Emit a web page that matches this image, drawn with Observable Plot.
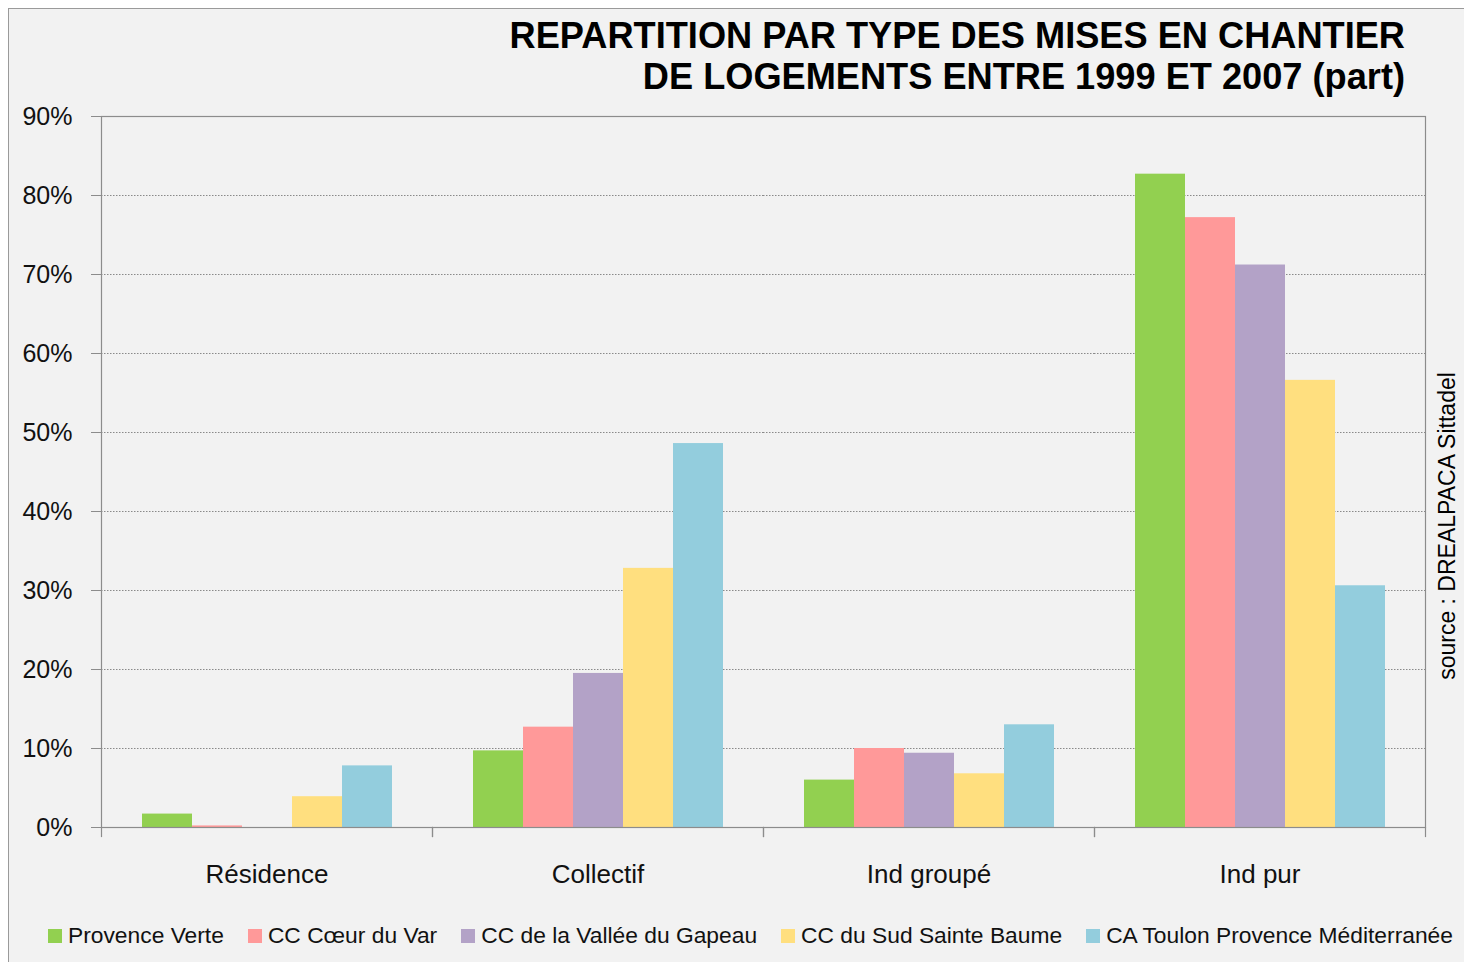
<!DOCTYPE html>
<html>
<head>
<meta charset="utf-8">
<script src="https://cdn.jsdelivr.net/npm/d3@7"></script>
<script src="https://cdn.jsdelivr.net/npm/@observablehq/plot@0.6"></script>
<style>
  html, body { margin: 0; padding: 0; background: #ffffff; }
  #wrap { position: relative; width: 1464px; height: 962px; overflow: hidden; font-family: "Liberation Sans", Arial, sans-serif; }
  #bg { position: absolute; left: 8px; top: 8px; width: 1470px; height: 970px; background: #f2f2f2; border-left: 1.5px solid #9a9a9a; border-top: 1.5px solid #9a9a9a; }
  #chart { position: absolute; left: 0; top: 0; }
  #title { position: absolute; right: 59px; top: 15px; text-align: right; font-weight: bold; font-size: 36.2px; line-height: 41px; color: #000; }
  #source { position: absolute; left: 1447px; top: 526px; transform: translate(-50%, -50%) rotate(-90deg); white-space: nowrap; font-size: 23px; color: #000; }
  #legend { position: absolute; left: 48px; top: 922px; display: flex; align-items: center; font-size: 22.8px; color: #111; white-space: nowrap; }
  .item { display: flex; align-items: center; margin-right: 24px; }
  .sw { width: 14px; height: 14px; margin-right: 6px; }
</style>
</head>
<body>
<div id="wrap">
  <div id="bg"></div>
  <div id="chart"></div>
  <div id="title">REPARTITION PAR TYPE DES MISES EN CHANTIER<br>DE LOGEMENTS ENTRE 1999 ET 2007 (part)</div>
  <div id="source">source : DREALPACA Sittadel</div>
  <div id="legend"></div>
</div>
<script>
const categories = ["Résidence", "Collectif", "Ind groupé", "Ind pur"];
const series = ["Provence Verte", "CC Cœur du Var", "CC de la Vallée du Gapeau", "CC du Sud Sainte Baume", "CA Toulon Provence Méditerranée"];
const colors = ["#92d050", "#ff9999", "#b3a2c7", "#ffdf7f", "#93cddd"];
const provenceVerte = [1.7, 9.7, 6.0, 82.7];
const coeurDuVar = [0.2, 12.7, 10.0, 77.2];
const valleeGapeau = [0, 19.5, 9.4, 71.2];
const sudSainteBaume = [3.9, 32.8, 6.8, 56.6];
const toulonTPM = [7.8, 48.6, 13.0, 30.6];
const yTicks = [0, 10, 20, 30, 40, 50, 60, 70, 80, 90];
const gridTicks = [10, 20, 30, 40, 50, 60, 70, 80];

const seriesValues = [provenceVerte, coeurDuVar, valleeGapeau, sudSainteBaume, toulonTPM];
const table = [];
categories.forEach((c, i) => {
  series.forEach((s, j) => {
    table.push({category: c, series: s, value: seriesValues[j][i]});
  });
});

const axisColor = "#8c8c8c";
const plot = Plot.plot({
  width: 1464,
  height: 962,
  marginLeft: 101,
  marginRight: 39,
  marginTop: 116,
  marginBottom: 135,
  style: {background: "transparent", fontFamily: "'Liberation Sans', Arial, sans-serif", color: "#111"},
  fx: {domain: categories, paddingInner: 0, paddingOuter: 0, label: null, axis: null},
  x: {domain: series, paddingInner: 0, paddingOuter: 0.78, axis: null},
  y: {domain: [0, 90], axis: null},
  color: {domain: series, range: colors},
  marks: [
    Plot.ruleY(gridTicks, {stroke: "#8a8a8a", strokeWidth: 1, strokeDasharray: "1.5,1.5"}),
    Plot.barY(table, {fx: "category", x: "series", y: "value", fill: "series", inset: 0}),
    Plot.frame({facet: "super", stroke: axisColor, strokeWidth: 1.2}),
    Plot.frame({anchor: "left", stroke: axisColor, strokeWidth: 1.2, insetTop: 711, insetBottom: -9}),
    Plot.frame({anchor: "right", stroke: axisColor, strokeWidth: 1.2, insetTop: 711, insetBottom: -9}),
    Plot.axisY({ticks: yTicks, tickFormat: d => d + "%", tickSize: 10, tickPadding: 19, stroke: axisColor, fill: "#111", fontSize: 25, label: null}),
    Plot.axisFx({anchor: "bottom", tickSize: 0, tickPadding: 37, fontSize: 26, fill: "#111", label: null})
  ]
});
document.getElementById("chart").appendChild(plot);

const legend = document.getElementById("legend");
series.forEach((s, i) => {
  const it = document.createElement("div");
  it.className = "item";
  const sw = document.createElement("div");
  sw.className = "sw";
  sw.style.background = colors[i];
  const tx = document.createElement("span");
  tx.textContent = s;
  it.appendChild(sw);
  it.appendChild(tx);
  legend.appendChild(it);
});
</script>
</body>
</html>
